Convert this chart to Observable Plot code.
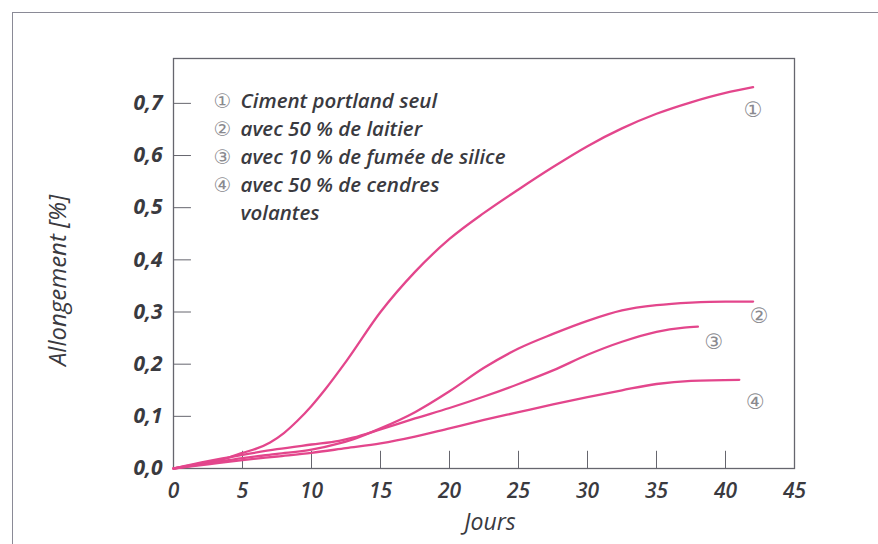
<!DOCTYPE html>
<html>
<head>
<meta charset="utf-8">
<script src="https://cdn.jsdelivr.net/npm/d3@7"></script>
<script src="https://cdn.jsdelivr.net/npm/@observablehq/plot@0.6"></script>
<style>
  html, body { margin: 0; padding: 0; background: #fff; }
  #wrap { position: relative; width: 878px; height: 544px; overflow: hidden; }
  #outer { position: absolute; left: 12px; top: 12px; right: -2px; bottom: -2px;
           border-left: 1.5px solid #8a8a96; border-top: 1.5px solid #8a8a96; }
  #chart { position: absolute; left: 0; top: 0; }
</style>
</head>
<body>
<div id="wrap"><div id="outer"></div><div id="chart"></div></div>
<script>
// ---- data ----
const xTicks = [0, 5, 10, 15, 20, 25, 30, 35, 40, 45];
const yTicks = [0, 0.1, 0.2, 0.3, 0.4, 0.5, 0.6, 0.7];

const seriesNames = ["①", "②", "③", "④"];
const legendLabels = [
  "Ciment portland seul",
  "avec 50 % de laitier",
  "avec 10 % de fumée de silice",
  "avec 50 % de cendres\nvolantes"
];

const days1 = [0, 2, 4, 5, 6, 7, 8, 9, 10, 11, 12.5, 15, 17.5, 20, 22.5, 25, 27.5, 30, 32.5, 35, 37.5, 40, 42];
const ciment = [0, 0.01, 0.021, 0.03, 0.038, 0.05, 0.068, 0.092, 0.12, 0.152, 0.205, 0.3, 0.377, 0.44, 0.49, 0.535, 0.578, 0.618, 0.652, 0.68, 0.702, 0.72, 0.731];

const days2 = [0, 2.5, 5, 7.5, 10, 12, 13, 15, 17.5, 20, 22.5, 25, 27.5, 30, 32.5, 35, 37.5, 40, 42];
const laitier = [0, 0.01, 0.02, 0.028, 0.036, 0.048, 0.056, 0.077, 0.108, 0.148, 0.193, 0.23, 0.258, 0.283, 0.303, 0.313, 0.318, 0.32, 0.32];

const days3 = [0, 2.5, 5, 7.5, 10, 12, 13, 15, 17.5, 20, 22.5, 25, 27.5, 30, 32.5, 35, 37, 38];
const silice = [0, 0.014, 0.026, 0.037, 0.046, 0.053, 0.059, 0.075, 0.096, 0.116, 0.138, 0.162, 0.188, 0.218, 0.243, 0.262, 0.27, 0.272];

const days4 = [0, 2.5, 5, 7.5, 10, 12.5, 15, 17.5, 20, 22.5, 25, 27.5, 30, 32.5, 35, 37.5, 41];
const cendres = [0, 0.008, 0.016, 0.023, 0.03, 0.039, 0.048, 0.061, 0.077, 0.093, 0.108, 0.123, 0.137, 0.15, 0.162, 0.168, 0.17];

// ---- build tidy table ----
const seriesDays = [days1, days2, days3, days4];
const seriesVals = [ciment, laitier, silice, cendres];
const rows = [];
seriesDays.forEach((ds, s) => ds.forEach((d, i) => rows.push({series: seriesNames[s], jours: d, allong: seriesVals[s][i]})));
const ends = seriesDays.map((ds, s) => ({series: seriesNames[s], jours: ds[ds.length - 1], allong: seriesVals[s][ds.length - 1]}));

const pink = "#e3468c";
const ink = "#3a3a3f";
const font = "Open Sans";
const fmt = d => d.toFixed(1).replace(".", ",");

// end-label offsets (px) per series
const endOffsets = [[0, 23], [6, 15], [16, 16], [16, 22]];

// legend lines
const legendLines = [];
legendLabels.forEach((l, i) => l.split("\n").forEach((t, j) => legendLines.push({num: j === 0 ? seriesNames[i] : "", text: t})));

const marks = [
  Plot.frame({stroke: "#66666e", strokeWidth: 1.3}),
  Plot.ruleY(yTicks.filter(d => d > 0), {y: d => d, x1: 0, x2: 1.3, stroke: "#66666e", strokeWidth: 1}),
  Plot.ruleX(xTicks.filter(d => d > 0 && d < 45), {x: d => d, y1: 0, y2: 0.033, stroke: "#66666e", strokeWidth: 1}),
  Plot.axisY({ticks: yTicks, tickSize: 0, tickPadding: 11, tickFormat: fmt, fontSize: 21, fontStyle: "italic", fontWeight: 700, fontFamily: font, fill: ink, label: null}),
  Plot.axisX({ticks: xTicks, tickSize: 0, tickPadding: 15, tickFormat: d => String(d), fontSize: 21, fontStyle: "italic", fontWeight: 600, fontFamily: font, fill: ink, label: null}),
  Plot.line(rows, {x: "jours", y: "allong", z: "series", stroke: pink, strokeWidth: 2.3, curve: "monotone-x"}),
  ...ends.map((e, i) => Plot.text([e], {x: "jours", y: "allong", text: "series", dx: endOffsets[i][0], dy: endOffsets[i][1], fontSize: 21, fill: "#8a8a8f", fontFamily: "DejaVu Sans"})),
  ...legendLines.map((l, i) => Plot.text([l], {frameAnchor: "top-left", dx: 49, dy: 43 + 28 * i, text: "num", textAnchor: "middle", lineAnchor: "middle", fontSize: 20, fill: "#8a8a8f", fontFamily: "DejaVu Sans"})),
  ...legendLines.map((l, i) => Plot.text([l], {frameAnchor: "top-left", dx: 67, dy: 43 + 28 * i, text: "text", textAnchor: "start", lineAnchor: "middle", fontSize: 20.5, fontStyle: "italic", fontWeight: 600, fill: ink, fontFamily: font})),
  Plot.text(["Jours"], {frameAnchor: "bottom", dx: 6, dy: 54, text: d => d, fontSize: 23, fontStyle: "italic", fontWeight: 500, fill: ink, fontFamily: font, lineAnchor: "middle"}),
  Plot.text(["Allongement [%]"], {frameAnchor: "left", dx: -115, dy: 17, rotate: -90, textAnchor: "middle", text: d => d, fontSize: 24, fontStyle: "italic", fontWeight: 500, fill: ink, fontFamily: font, lineAnchor: "middle"})
];

const chart = Plot.plot({
  width: 878,
  height: 544,
  marginLeft: 173,
  marginRight: 84,
  marginTop: 58,
  marginBottom: 76,
  x: {domain: [0, 45]},
  y: {domain: [0, 0.786]},
  style: {background: "transparent", fontFamily: font, overflow: "visible"},
  marks
});
document.getElementById("chart").appendChild(chart);
</script>
</body>
</html>
